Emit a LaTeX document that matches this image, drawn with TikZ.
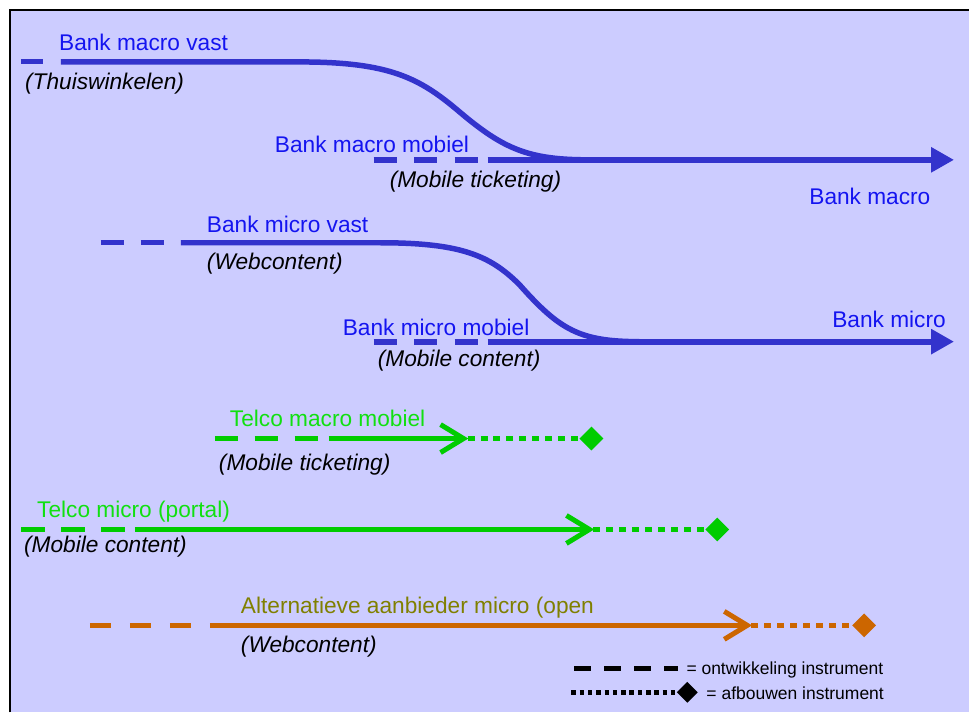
\documentclass[tikz,border=0pt]{standalone}
\usepackage{fontspec}
\setmainfont{Liberation Sans}
\usetikzlibrary{arrows.meta,shapes.geometric}
\definecolor{panel}{HTML}{CCCCFF}
\definecolor{bankline}{HTML}{3333CC}
\definecolor{banktext}{HTML}{1414F0}
\definecolor{telcoline}{HTML}{00CC00}
\definecolor{telcotext}{HTML}{11E011}
\definecolor{altline}{HTML}{CC6600}
\definecolor{alttext}{HTML}{808000}

\begin{document}
\begin{tikzpicture}[x=1pt,y=-1pt,
  lbl/.style={anchor=base west, inner sep=0pt, font=\fontsize{22.7}{27}\selectfont},
  sub/.style={anchor=base west, inner sep=0pt, font=\fontsize{22.7}{27}\selectfont\itshape, text=black},
  legendtxt/.style={anchor=base west, inner sep=0pt, font=\fontsize{17.5}{20}\selectfont, text=black},
  track/.style={line width=5.5pt},
  devbank/.style={track, dash pattern=on 23pt off 17.5pt},
  wind/.style={line width=5pt, dash pattern=on 7pt off 6pt},
  chevron/.style={line width=5pt, miter limit=10},
  endmark/.style={diamond, inner sep=0pt, minimum width=#1, minimum height=#1, draw=none},
  bankarrow/.style={line width=6pt, -{Triangle[length=23pt,width=24pt]}},
]
% panel and frame
\fill[white] (0,0) rectangle (970,713);
\fill[panel] (10,10) rectangle (970,713);
\draw[line width=2pt] (10,713) -- (10,10) -- (970,10);

% ---------------- Bank macro ----------------
\coordinate (bmav-a) at (21,62);
\coordinate (bmav-b) at (43,62);
\coordinate (bmav-s) at (61,62);
\coordinate (bmav-k) at (300,62);
\coordinate (bmav-e) at (590,160);
\draw[bankline, line width=5pt] (bmav-a) -- (bmav-b);
\draw[bankline, track] (bmav-s) -- (bmav-k)
  .. controls (390,62) and (420,78) .. (460,112)
  .. controls (505,150) and (530,160) .. (bmav-e);
\coordinate (bmam-a) at (374,160);
\coordinate (bmam-b) at (478,160);
\coordinate (bmam-s) at (488,160);
\coordinate (bma-tip) at (955,160);
\draw[bankline, devbank, line width=6pt] (bmam-a) -- (bmam-b);
\draw[bankline, bankarrow] (bmam-s) -- (bma-tip);

\node[lbl, text=banktext] (t-bmav) at (59,51) {Bank macro vast};
\node[sub] (t-thuis) at (25,90) {(Thuiswinkelen)};
\node[lbl, text=banktext] (t-bmam) at (275,153) {Bank macro mobiel};
\node[sub] (t-mt1) at (390,188) {(Mobile ticketing)};
\node[lbl, text=banktext] (t-bma) at (810,205) {Bank macro};

% ---------------- Bank micro ----------------
\coordinate (bmiv-a) at (101,243);
\coordinate (bmiv-b) at (164.5,243);
\coordinate (bmiv-s) at (181,243);
\coordinate (bmiv-k) at (380,243);
\coordinate (bmiv-e) at (640,342);
\draw[bankline, track, dash pattern=on 23.5pt off 16.5pt] (bmiv-a) -- (bmiv-b);
\draw[bankline, track] (bmiv-s) -- (bmiv-k)
  .. controls (460,243) and (490,255) .. (520,285)
  .. controls (560,330) and (580,342) .. (bmiv-e);
\coordinate (bmim-a) at (374,342);
\coordinate (bmim-b) at (478,342);
\coordinate (bmim-s) at (488,342);
\coordinate (bmi-tip) at (955,342);
\draw[bankline, devbank, line width=6pt] (bmim-a) -- (bmim-b);
\draw[bankline, bankarrow] (bmim-s) -- (bmi-tip);

\node[lbl, text=banktext] (t-bmiv) at (207,233) {Bank micro vast};
\node[sub] (t-web1) at (207,270) {(Webcontent)};
\node[lbl, text=banktext] (t-bmim) at (343,336) {Bank micro mobiel};
\node[sub] (t-mc1) at (378,367) {(Mobile content)};
\node[lbl, text=banktext] (t-bmi) at (833,328) {Bank micro};

% ---------------- Telco macro mobiel ----------------
\coordinate (tma-a) at (215,439);
\coordinate (tma-b) at (318,439);
\coordinate (tma-s) at (329,439);
\coordinate (tma-v) at (464,439);
\coordinate (tma-d) at (468,439);
\node[endmark=24pt, fill=telcoline] (tma-end) at (592,439) {};
\draw[telcoline, line width=5pt, dash pattern=on 23pt off 17pt] (tma-a) -- (tma-b);
\draw[telcoline, line width=5pt] (tma-s) -- (tma-v);
\draw[telcoline, chevron] (441,425) -- (tma-v) -- (441,453);
\draw[telcoline, wind] (tma-d) -- (tma-end.west);

\node[lbl, text=telcotext] (t-tma) at (230,427) {Telco macro mobiel};
\node[sub] (t-mt2) at (219,471) {(Mobile ticketing)};

% ---------------- Telco micro ----------------
\coordinate (tmi-a) at (21.5,530);
\coordinate (tmi-b) at (125,530);
\coordinate (tmi-s) at (135,530);
\coordinate (tmi-v) at (590,530);
\coordinate (tmi-d) at (594,530);
\node[endmark=24pt, fill=telcoline] (tmi-end) at (718,530) {};
\draw[telcoline, line width=5pt, dash pattern=on 23.5pt off 16.5pt] (tmi-a) -- (tmi-b);
\draw[telcoline, line width=5pt] (tmi-s) -- (tmi-v);
\draw[telcoline, chevron] (567,516) -- (tmi-v) -- (567,544);
\draw[telcoline, wind] (tmi-d) -- (tmi-end.west);

\node[lbl, text=telcotext] (t-tmi) at (37,518) {Telco micro (portal)};
\node[sub] (t-mc2) at (24,553) {(Mobile content)};

% ---------------- Alternatieve aanbieder ----------------
\coordinate (alt-a) at (90,626);
\coordinate (alt-b) at (191,626);
\coordinate (alt-s) at (210,626);
\coordinate (alt-v) at (748,626);
\coordinate (alt-d) at (752,626);
\node[endmark=24pt, fill=altline] (alt-end) at (865,626) {};
\draw[altline, line width=5pt, dash pattern=on 21pt off 19pt] (alt-a) -- (alt-b);
\draw[altline, line width=5pt] (alt-s) -- (alt-v);
\draw[altline, chevron] (725,612) -- (alt-v) -- (725,640);
\draw[altline, wind] (alt-d) -- (alt-end.west);

\node[lbl, text=alttext] (t-alt) at (241,614) {Alternatieve aanbieder micro (open};
\node[sub] (t-web2) at (241,653) {(Webcontent)};

% ---------------- Legend ----------------
\coordinate (lg-a) at (575,669);
\coordinate (lg-b) at (679,669);
\coordinate (lg-c) at (572,693);
\node[endmark=21pt, fill=black] (lg-end) at (688,693) {};
\draw[line width=4.5pt, dash pattern=on 17pt off 13pt] (lg-a) -- (lg-b);
\draw[line width=4.5pt, dash pattern=on 4.5pt off 3.8pt] (lg-c) -- (lg-end.west);
\node[legendtxt] (t-dev) at (687,675) {= ontwikkeling instrument};
\node[legendtxt] (t-wind) at (707,700) {= afbouwen instrument};
\end{tikzpicture}
\end{document}
